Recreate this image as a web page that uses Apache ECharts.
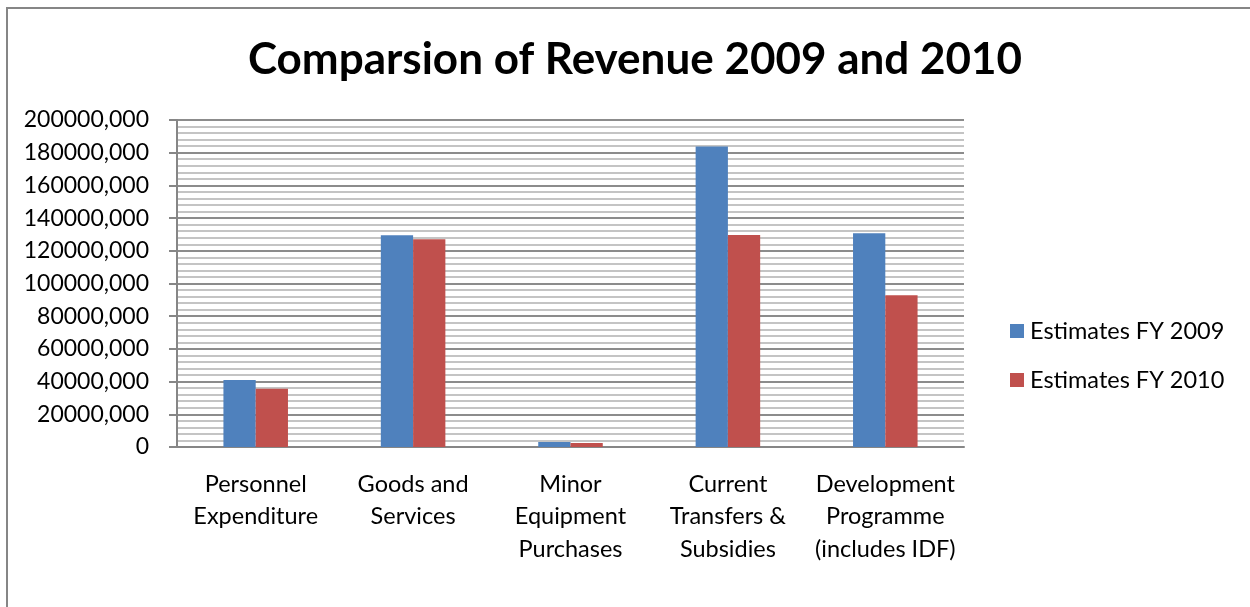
<!DOCTYPE html>
<html><head><meta charset="utf-8">
<script src="https://cdn.jsdelivr.net/npm/echarts@6/dist/echarts.min.js"></script>
<style>html,body{margin:0;padding:0;background:#fff}#c{width:1250px;height:607px}</style>
</head><body><div id="c"></div>
<script>
const categories = ["Personnel\nExpenditure", "Goods and\nServices", "Minor\nEquipment\nPurchases", "Current\nTransfers &\nSubsidies", "Development\nProgramme\n(includes IDF)"];
const seriesNames = ["Estimates FY 2009", "Estimates FY 2010"];
const fy2009 = [41000000, 129500000, 3000000, 183800000, 130800000];
const fy2010 = [35600000, 127000000, 2400000, 129600000, 92800000];
const yTicks = [0, 20000000, 40000000, 60000000, 80000000, 100000000, 120000000, 140000000, 160000000, 180000000, 200000000];

const font = 'Lato, "Open Sans", sans-serif';
const chart = echarts.init(document.getElementById('c'));
chart.setOption({
  animation: false,
  title: {
    text: 'Comparsion of Revenue 2009 and 2010',
    left: 630, top: 33, textAlign: 'center',
    textStyle: { fontFamily: font, fontSize: 44, fontWeight: 'bold', color: '#000' }
  },
  graphic: [{
    type: 'rect', shape: { x: 7, y: 8, width: 1260, height: 620 },
    style: { fill: 'none', stroke: '#868686', lineWidth: 2 }, silent: true
  }],
  legend: {
    orient: 'vertical', left: 1005, top: 314,
    itemWidth: 14, itemHeight: 14, itemGap: 25,
    icon: 'rect',
    textStyle: { fontFamily: font, fontSize: 23.5, color: '#000', padding: [0, 0, 0, 1] },
    data: seriesNames
  },
  grid: { left: 177, right: 286, top: 120, bottom: 160 },
  xAxis: {
    type: 'category', data: categories,
    axisLine: { lineStyle: { color: '#868686', width: 2 } },
    axisTick: { show: false },
    axisLabel: { fontFamily: font, fontSize: 23.5, color: '#000', lineHeight: 32.5, margin: 21, interval: 0 }
  },
  yAxis: {
    type: 'value', min: 0, max: 200000000, interval: 20000000,
    axisLine: { show: true, lineStyle: { color: '#868686', width: 2 } },
    axisTick: { show: true, length: 8, lineStyle: { color: '#868686', width: 2 } },
    axisLabel: {
      fontFamily: font, fontSize: 23, color: '#000', margin: 28,
      formatter: v => v === 0 ? '0' : (v / 1000) + ',000'
    },
    splitLine: { show: true, lineStyle: { color: '#8c8c8c', width: 2 } },
    minorTick: { show: false, splitNumber: 5 },
    minorSplitLine: { show: true, lineStyle: { color: '#c4c4c4', width: 2 } }
  },
  series: [
    { name: seriesNames[0], type: 'bar', data: fy2009, barGap: '0%', barCategoryGap: '59%',
      itemStyle: { color: '#4f81bd' } },
    { name: seriesNames[1], type: 'bar', data: fy2010, barGap: '0%', barCategoryGap: '59%',
      itemStyle: { color: '#c0504d' } }
  ]
});
</script></body></html>
